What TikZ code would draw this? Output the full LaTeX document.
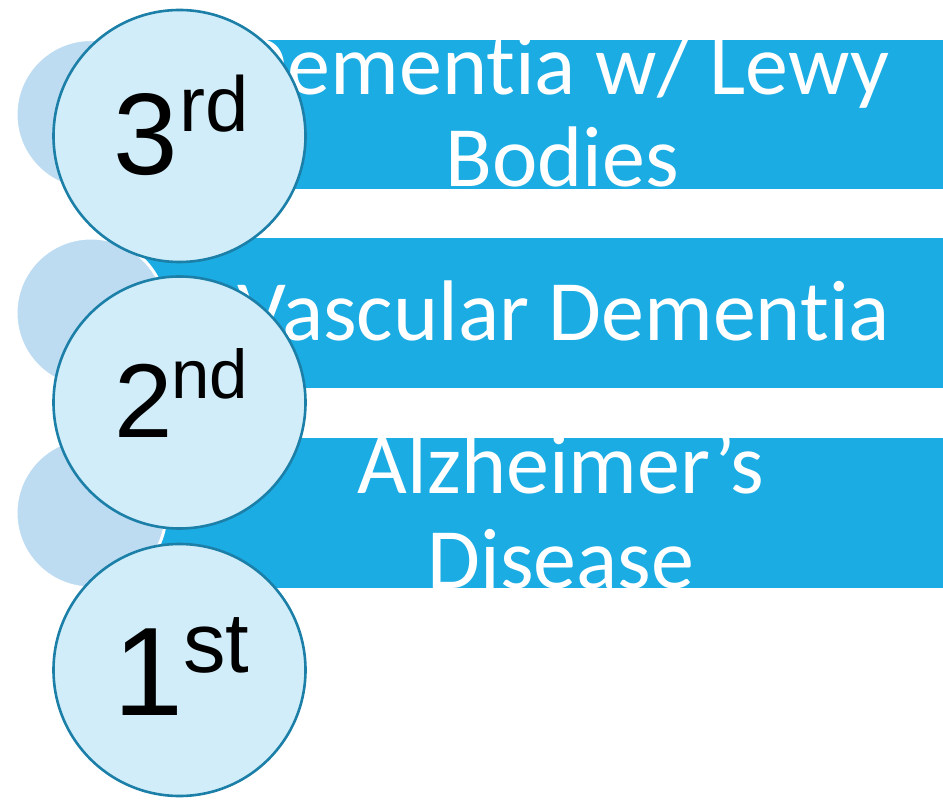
\documentclass[tikz,border=0pt]{standalone}
\usepackage{fontspec}
\setmainfont[Ligatures=NoCommon]{Carlito}
\newfontfamily\arialish{Liberation Sans}
\definecolor{barblue}{HTML}{1BACE4}
\definecolor{lightdisc}{HTML}{BDDCF2}
\definecolor{discfill}{HTML}{D0EDF9}
\definecolor{discline}{HTML}{1B7FA8}
\newcommand{\rankmark}[6]{{\fontsize{#2}{#2}\selectfont #1}\hspace{#5}\raisebox{#6}{\fontsize{#4}{#4}\selectfont #3}}
\begin{document}
\begin{tikzpicture}[x=1pt,y=-1pt,
  barbox/.style={fill=barblue,draw=none},
  backdisc/.style={circle,fill=lightdisc,draw=white,line width=3pt,inner sep=0pt,minimum size=150pt},
  rankdisc/.style={circle,fill=discfill,draw=discline,line width=2.6pt,inner sep=0pt,minimum size=252pt},
  bartext/.style={text=white,anchor=base,inner sep=0pt,font=\fontsize{86}{94}\selectfont},
  ranklabel/.style={anchor=base west,inner sep=0pt,text=black,font=\arialish}]
\useasboundingbox (0,0) rectangle (943,802);
% bars
\fill[barbox] (91,40) rectangle (943,189);
\fill[barbox] (91,238) rectangle (943,388);
\fill[barbox] (91,438) rectangle (943,588);
% bar texts (clipped to bars)
\begin{scope}
  \clip (91,40) rectangle (943,189);
  \node[bartext] (t1a) at (562,95) {Dementia w/ Lewy};
  \node[bartext] (t1b) at (562,187) {Bodies};
\end{scope}
\begin{scope}
  \clip (91,238) rectangle (943,388);
  \node[bartext] (t2a) at (564,341) {Vascular Dementia};
\end{scope}
\begin{scope}
  \clip (91,438) rectangle (943,588);
  \node[bartext] (t3a) at (561,493) {Alzheimer’s};
  \node[bartext] (t3b) at (561,588) {Disease};
\end{scope}
% back discs
\node[backdisc] (b1) at (91,114.5) {};
\node[backdisc] (b2) at (91,313) {};
\node[backdisc] (b3) at (91,513) {};
% rank discs
\node[rankdisc] (c3) at (179.5,136) {};
\node[rankdisc] (c2) at (179.5,402.5) {};
\node[rankdisc] (c1) at (179.5,670) {};
% rank labels
\node[ranklabel] (r3) at (113,175) {\rankmark{3}{116}{rd}{78}{1.5pt}{43pt}};
\node[ranklabel] (r2) at (114,437) {\rankmark{2}{105}{nd}{69}{-1.4pt}{39pt}};
\node[ranklabel] (r1) at (113,715) {\rankmark{1}{126}{st}{85}{0pt}{43pt}};
\end{tikzpicture}
\end{document}
